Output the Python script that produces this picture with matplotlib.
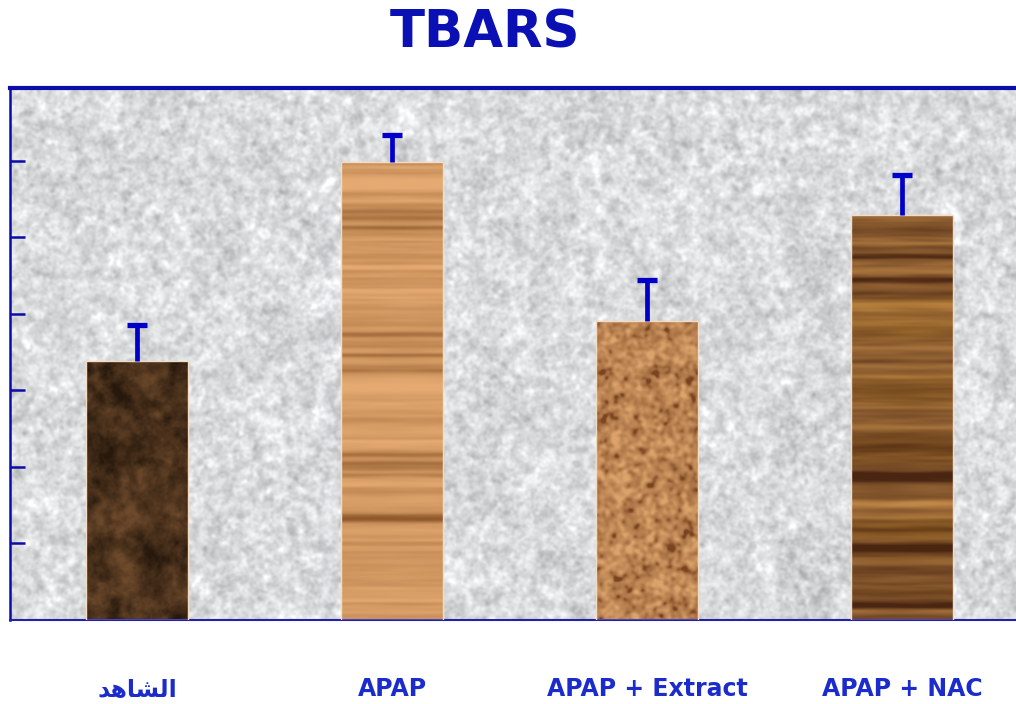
import numpy as np
import matplotlib
matplotlib.use("Agg")
import matplotlib.pyplot as plt

# TBARS levels per group (axis units), upper error only
groups = ["\uFEAA\uFEEB\uFE8E\uFEB8\uFEDF\uFE8D", "APAP", "APAP + Extract", "APAP + NAC"]
tbars = [3.39, 5.98, 3.90, 5.29]
tbars_err = [0.46, 0.35, 0.54, 0.52]
y_ticks = [1, 2, 3, 4, 5, 6]

BLUE = "#0c0ca6"
ERR_BLUE = "#0000c8"
LABEL_BLUE = "#1c2ccc"

rng = np.random.default_rng(7)


def blur(a, sy, sx=None):
    sx = sy if sx is None else sx
    ky = np.fft.fftfreq(a.shape[0])[:, None]
    kx = np.fft.fftfreq(a.shape[1])[None, :]
    g = np.exp(-2 * np.pi ** 2 * ((sy * ky) ** 2 + (sx * kx) ** 2))
    return np.real(np.fft.ifft2(np.fft.fft2(a) * g))


def norm(a):
    a = a - a.mean()
    return a / (a.std() + 1e-9)


def lerp_colors(t, c0, c1):
    t = np.clip(t, 0, 1)[..., None]
    c0 = np.array(matplotlib.colors.to_rgb(c0))
    c1 = np.array(matplotlib.colors.to_rgb(c1))
    return c0 * (1 - t) + c1 * t


def granite(h, w):
    n = norm(blur(rng.normal(size=(h, w)), 3.0)) + 0.8 * norm(blur(rng.normal(size=(h, w)), 1.4)) \
        + 0.4 * norm(blur(rng.normal(size=(h, w)), 12))
    n = norm(n)
    g = 0.855 + 0.045 * n
    img = np.stack([g, g + 0.004, g + 0.012], axis=-1)
    return np.clip(img, 0, 1)


def marble(h, w):
    n = norm(blur(rng.normal(size=(h, w)), 9)) + 0.7 * norm(blur(rng.normal(size=(h, w)), 3)) \
        + 0.3 * norm(blur(rng.normal(size=(h, w)), 1))
    t = 0.5 + 0.2 * norm(n)
    return lerp_colors(t, "#6e4a2c", "#26180c")


def light_wood(h, w):
    stripes = norm(blur(rng.normal(size=(h, w)), 2.0, 120)) + 0.8 * norm(blur(rng.normal(size=(h, w)), 6, 60))
    fine = norm(blur(rng.normal(size=(h, w)), 1.0, 25))
    s = norm(stripes)
    t = 0.22 + 0.12 * s + 0.22 * np.clip(s - 1.0, 0, None) + 0.04 * fine
    return lerp_colors(t, "#e4aa72", "#8a5426")


def cork(h, w):
    n = norm(blur(rng.normal(size=(h, w)), 1.8)) + 0.5 * norm(blur(rng.normal(size=(h, w)), 5))
    n = norm(n)
    t = 0.34 + 0.16 * n + 0.25 * np.clip(n - 1.2, 0, None)
    return lerp_colors(t, "#dca46c", "#7a4420")


def dark_wood(h, w):
    stripes = norm(blur(rng.normal(size=(h, w)), 2.5, 90)) + 0.9 * norm(blur(rng.normal(size=(h, w)), 6, 50))
    fine = norm(blur(rng.normal(size=(h, w)), 1.0, 20))
    s = norm(stripes)
    t = 0.5 + 0.16 * s + 0.18 * np.clip(s - 0.8, 0, None) + 0.05 * fine
    img = lerp_colors(t, "#c08848", "#4a2612")
    tint = norm(blur(rng.normal(size=(h, w)), 10, 40))
    img[..., 2] *= 1 - 0.12 * np.clip(tint, 0, None)
    return np.clip(img, 0, 1)


fig = plt.figure(figsize=(10.16, 7.04), dpi=100)
ax = fig.add_axes([10 / 1016, 84 / 704, 1019.5 / 1016, 532 / 704])
ax.set_xlim(-0.5, 3.5)
ax.set_ylim(0, 6.95)

ax.imshow(granite(532, 1020), extent=[-0.5, 3.5, 0, 6.95], aspect="auto",
          interpolation="bilinear", zorder=0)

x = np.arange(len(groups))
bars = ax.bar(x, tbars, width=0.4, facecolor="none", edgecolor="#f4dcc4",
              linewidth=1.0, zorder=3)

textures = [marble, light_wood, cork, dark_wood]
for bar, make in zip(bars, textures):
    x0, y0 = bar.get_x(), bar.get_y()
    bw, bh = bar.get_width(), bar.get_height()
    h_px = int(bh / 6.95 * 532)
    tex = make(h_px, 101)
    im = ax.imshow(tex, extent=[x0, x0 + bw, y0, y0 + bh], aspect="auto",
                   interpolation="bilinear", zorder=2)
    im.set_clip_path(bar)

# upper whisker only: stem from the bar top plus a single cap
tops = np.array(tbars) + np.array(tbars_err)
ax.vlines(x, tbars, tops, colors=ERR_BLUE, linewidth=3.4, zorder=4)
ax.plot(x, tops, linestyle="none", marker="_", markersize=14, markeredgewidth=3.8,
        color=ERR_BLUE, zorder=4)

ax.set_xlim(-0.5, 3.5)
ax.set_ylim(0, 6.95)

ax.set_yticks(y_ticks)
ax.set_yticklabels([])
ax.tick_params(axis="y", direction="in", length=11, width=1.8, color=BLUE)

ax.set_xticks(x)
ax.set_xticklabels(groups)
ax.tick_params(axis="x", length=0, pad=41)
for lbl in ax.get_xticklabels():
    lbl.set_family(["DejaVu Sans", "Noto Sans"])
    lbl.set_fontweight("bold")
    lbl.set_fontsize(17)
    lbl.set_color(LABEL_BLUE)

ax.spines["right"].set_visible(False)
ax.spines["top"].set_color(BLUE)
ax.spines["top"].set_linewidth(3.0)
ax.spines["left"].set_color(BLUE)
ax.spines["left"].set_linewidth(1.8)
ax.spines["bottom"].set_color("#2222a8")
ax.spines["bottom"].set_linewidth(1.5)

fig.text(485 / 1016, 1 - 33 / 704, "TBARS", ha="center", va="center",
         fontsize=37, fontweight="bold", color="#0a10b4", family="DejaVu Sans")

fig.savefig("out.png", dpi=100)
